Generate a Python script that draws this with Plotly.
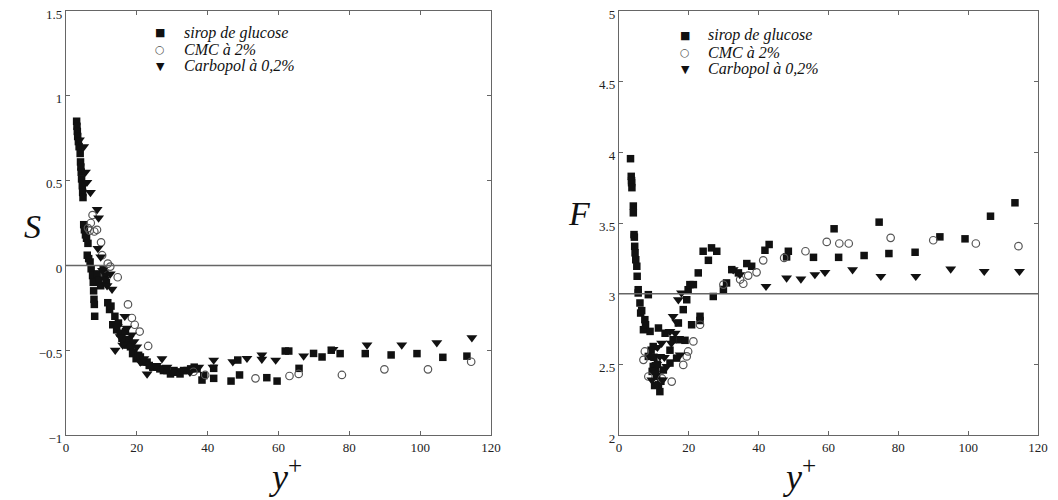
import plotly.graph_objects as go

# ---------------- Data: left panel (S vs y+) ----------------
sirop_S_x = [3.0, 3.1, 3.2, 3.3, 3.5, 3.7, 4.0, 4.1, 4.2, 4.3, 4.4, 4.6, 4.7, 4.8, 5.0, 5.2, 5.5, 5.8, 6.2,
             6.0, 6.4, 6.8, 7.1, 7.5, 7.7, 7.8, 7.9, 8.0, 8.1, 8.8, 9.3, 9.8, 10.5, 11.0, 11.4, 11.8, 12.3,
             12.7, 13.2, 13.8, 14.3, 14.8, 15.3, 15.8, 16.3, 16.8, 17.3, 17.8, 18.2, 18.8, 19.1, 19.8, 20.5,
             21.0, 21.8, 22.9, 23.5, 24.5, 25.7, 26.5, 27.5, 28.5, 29.5, 30.5, 31.3, 32.2, 33.2, 34.2, 35.2,
             36.2, 37.0, 38.4, 38.9, 41.7, 41.7, 46.6, 48.5, 49.0, 56.7, 59.6, 61.9, 62.9, 65.8, 69.9, 72.3,
             74.9, 77.4, 84.5, 91.8, 99.1, 106.4, 113.2]
sirop_S_y = [0.85, 0.82, 0.79, 0.76, 0.73, 0.70, 0.66, 0.61, 0.58, 0.55, 0.51, 0.47, 0.43, 0.40, 0.24, 0.21,
             0.18, 0.16, 0.13, 0.06, 0.04, 0.02, -0.02, -0.06, -0.10, -0.15, -0.20, -0.23, -0.30, -0.05, -0.09,
             -0.12, -0.02, -0.05, -0.10, -0.22, -0.26, -0.24, -0.35, -0.30, -0.38, -0.34, -0.40, -0.43, -0.44,
             -0.39, -0.47, -0.45, -0.48, -0.52, -0.51, -0.55, -0.53, -0.54, -0.57, -0.57, -0.59, -0.60, -0.60,
             -0.61, -0.62, -0.62, -0.64, -0.62, -0.63, -0.64, -0.62, -0.62, -0.61, -0.60, -0.61, -0.676, -0.65,
             -0.666, -0.607, -0.682, -0.558, -0.646, -0.662, -0.682, -0.505, -0.505, -0.607, -0.519, -0.54,
             -0.50, -0.52, -0.52, -0.528, -0.52, -0.542, -0.535]

cmc_S_x = [6.2, 6.7, 7.0, 7.5, 8.0, 8.75, 9.9, 10.2, 11.1, 11.8, 12.5, 14.6, 17.5, 18.6, 19.4, 20.8, 23.2,
           36.0, 39.3, 53.5, 63.1, 65.7, 77.9, 89.9, 102.2, 114.4]
cmc_S_y = [0.22, 0.205, 0.25, 0.297, 0.20, 0.21, 0.136, 0.06, -0.06, 0.01, -0.007, -0.07, -0.23, -0.31,
           -0.35, -0.39, -0.475, -0.627, -0.646, -0.666, -0.652, -0.64, -0.646, -0.613, -0.613, -0.568]

carbo_S_x = [3.8, 5.0, 5.5, 5.9, 6.9, 8.8, 9.2, 9.0, 9.8, 10.3, 11.0, 11.6, 12.5, 13.0, 13.9, 14.5, 15.3,
             16.0, 16.6, 17.2, 17.8, 18.5, 19.2, 20.0, 21.0, 22.0, 22.9, 24.0, 25.5, 27.1, 28.5, 30.0, 32.5,
             35.0, 37.5, 41.7, 41.5, 47.1, 51.1, 55.3, 55.3, 59.2, 67.1, 75.4, 85.0, 94.8, 104.7, 114.6]
carbo_S_y = [0.74, 0.70, 0.55, 0.49, 0.43, 0.33, 0.28, 0.10, 0.05, -0.03, -0.08, -0.12, -0.05, -0.14, -0.50,
             -0.36, -0.42, -0.47, -0.30, -0.37, -0.43, -0.41, -0.45, -0.48, -0.57, -0.55, -0.64, -0.60, -0.59,
             -0.55, -0.60, -0.63, -0.62, -0.63, -0.60, -0.558, -0.60, -0.568, -0.548, -0.528, -0.553, -0.558,
             -0.534, -0.495, -0.469, -0.469, -0.456, -0.426]

# ---------------- Data: right panel (F vs y+) ----------------
sirop_F_x = [3.3, 3.5, 3.6, 3.6, 3.7, 4.1, 4.1, 4.3, 4.4, 4.5, 4.6, 4.8, 5.1, 5.2, 5.5, 5.5, 8.4, 6.0, 6.2,
             6.5, 7.4, 7.0, 7.6, 8.9, 11.3, 13.2, 9.8, 8.4, 9.8, 10.8, 11.3, 11.7, 12.7, 14.6, 15.5, 17.0,
             18.4, 19.4, 19.8, 20.3, 21.3, 22.7, 23.2, 23.2, 20.8, 27.0, 17.5, 18.9, 16.5, 14.6, 10.0, 10.5,
             11.0, 12.0, 9.2, 9.5, 10.2, 24.1, 26.5, 28.0, 25.6, 30.8, 29.9, 32.3, 34.2, 36.6, 38.0, 41.8,
             43.0, 48.5, 48.0, 55.7, 61.6, 62.9, 70.2, 74.5, 77.3, 84.8, 91.9, 99.1, 106.4, 113.4]
sirop_F_y = [3.955, 3.83, 3.80, 3.785, 3.75, 3.62, 3.572, 3.418, 3.40, 3.335, 3.289, 3.24, 3.194, 3.123,
             3.028, 3.005, 2.993, 2.934, 2.863, 2.88, 2.816, 2.745, 2.78, 2.733, 2.757, 2.72, 2.626, 2.556,
             2.485, 2.414, 2.355, 2.307, 2.46, 2.60, 2.674, 2.792, 2.887, 2.957, 3.028, 3.064, 3.064, 3.147,
             2.84, 2.81, 2.78, 2.98, 2.674, 2.67, 2.544, 2.509, 2.55, 2.45, 2.50, 2.38, 2.60, 2.45, 2.35,
             3.30, 3.324, 3.30, 3.236, 3.076, 3.03, 3.17, 3.147, 3.213, 3.194, 3.307, 3.348, 3.30, 3.26,
             3.257, 3.459, 3.257, 3.27, 3.506, 3.284, 3.293, 3.402, 3.388, 3.548, 3.643]

cmc_F_x = [7.4, 7.0, 8.4, 12.3, 15.1, 18.4, 19.4, 19.8, 21.3, 23.2, 29.9, 34.7, 35.6, 37.0, 39.4, 41.3,
           47.3, 53.4, 59.5, 63.1, 65.8, 77.8, 90.0, 102.2, 114.4]
cmc_F_y = [2.591, 2.532, 2.414, 2.40, 2.378, 2.496, 2.556, 2.591, 2.662, 2.78, 3.064, 3.10, 3.07, 3.128,
           3.151, 3.236, 3.253, 3.30, 3.366, 3.355, 3.355, 3.395, 3.378, 3.355, 3.336]

carbo_F_x = [17.0, 17.9, 15.5, 14.6, 16.1, 12.2, 11.7, 10.3, 9.4, 12.5, 13.7, 17.5, 11.0, 10.8, 13.0, 15.0,
             16.5, 32.7, 34.6, 42.1, 48.0, 52.1, 56.1, 59.0, 66.9, 75.0, 85.0, 95.0, 104.6, 114.7]
carbo_F_y = [2.957, 3.005, 2.84, 2.733, 2.72, 2.65, 2.556, 2.437, 2.39, 2.39, 2.485, 2.567, 2.62, 2.50,
             2.55, 2.65, 2.80, 3.17, 3.135, 3.052, 3.111, 3.104, 3.135, 3.151, 3.17, 3.123, 3.123, 3.175,
             3.158, 3.158]

series_names = ["sirop de glucose", "CMC à 2%", "Carbopol à 0,2%"]
series_glyphs = ["■", "○", "▼"]
x_ticks = [0, 20, 40, 60, 80, 100, 120]
s_ticks = [-1, -0.5, 0, 0.5, 1, 1.5]
f_ticks = [2, 2.5, 3, 3.5, 4, 4.5, 5]

# the page body has an 8px margin: the figure is sized and placed to fill the 1058x500 window
OFF = 8
W, H = 1058 - OFF, 500 - OFF
SERIF = "Liberation Serif, Times New Roman, serif"
INK = "#111111"
AX = "#666666"

sq = dict(symbol="square", size=7.5, color=INK)
ci = dict(symbol="circle-open", size=7.5, color="#555555", line=dict(width=1.2, color="#555555"))
tr = dict(symbol="triangle-down", size=9.5, color=INK)

fig = go.Figure()
fig.add_trace(go.Scatter(x=sirop_S_x, y=sirop_S_y, mode="markers", marker=sq, name=series_names[0],
                         xaxis="x", yaxis="y"))
fig.add_trace(go.Scatter(x=cmc_S_x, y=cmc_S_y, mode="markers", marker=ci, name=series_names[1],
                         xaxis="x", yaxis="y"))
fig.add_trace(go.Scatter(x=carbo_S_x, y=carbo_S_y, mode="markers", marker=tr, name=series_names[2],
                         xaxis="x", yaxis="y"))
fig.add_trace(go.Scatter(x=sirop_F_x, y=sirop_F_y, mode="markers", marker=sq, name=series_names[0],
                         xaxis="x2", yaxis="y2"))
fig.add_trace(go.Scatter(x=cmc_F_x, y=cmc_F_y, mode="markers", marker=ci, name=series_names[1],
                         xaxis="x2", yaxis="y2"))
fig.add_trace(go.Scatter(x=carbo_F_x, y=carbo_F_y, mode="markers", marker=tr, name=series_names[2],
                         xaxis="x2", yaxis="y2"))

tickfont = dict(family=SERIF, size=13, color="#222222")
common = dict(showline=True, linecolor=AX, linewidth=1.2, mirror="ticks", ticks="inside", ticklen=4,
              tickcolor=AX, showgrid=False, zeroline=False, tickfont=tickfont, automargin=False,
              ticklabeloverflow="allow")

def px(x):
    return (x - OFF) / W

def py(y):
    return 1 - (y - OFF) / H

Y0, Y1 = py(435), py(11)

annotations = [
    dict(text="<i>S</i>", x=px(22), y=py(226), font=dict(family=SERIF, size=34, color=INK)),
    dict(text="<i>F</i>", x=px(579), y=py(213), font=dict(family=SERIF, size=34, color=INK)),
    dict(text="<i>y</i><sup>+</sup>", x=px(267), y=py(474), font=dict(family=SERIF, size=36, color=INK)),
    dict(text="<i>y</i><sup>+</sup>", x=px(818), y=py(474), font=dict(family=SERIF, size=36, color=INK)),
]
# legend keys (one block per panel)
legend_blocks = [(160, 182, [33, 49.5, 66]), (685, 706, [35, 52, 69])]
glyph_colors = [INK, "#555555", INK]
for gx, tx, rows in legend_blocks:
    for i, ry in enumerate(rows):
        annotations.append(dict(text=series_glyphs[i], x=px(gx), y=py(ry), xanchor="center",
                                font=dict(family="DejaVu Sans", size=11, color=glyph_colors[i])))
        annotations.append(dict(text="<i>" + series_names[i] + "</i>", x=px(tx), y=py(ry), xanchor="left",
                                font=dict(family=SERIF, size=16, color=INK)))
for a in annotations:
    a.update(xref="paper", yref="paper", showarrow=False)
    a.setdefault("yanchor", "middle")

fig.update_layout(
    width=W, height=H,
    margin=dict(l=0, r=0, t=0, b=0),
    paper_bgcolor="white", plot_bgcolor="white",
    showlegend=False,
    xaxis=dict(domain=[px(66), px(491)], range=[0, 120], tickvals=x_ticks, anchor="y", **common),
    yaxis=dict(domain=[Y0, Y1], range=[-1, 1.5], tickvals=s_ticks, anchor="x", ticklabelshift=3, **common),
    xaxis2=dict(domain=[px(619), px(1038)], range=[0, 120], tickvals=x_ticks, anchor="y2", **common),
    yaxis2=dict(domain=[Y0, Y1], range=[2, 5], tickvals=f_ticks, anchor="x2", ticklabelshift=3, **common),
    shapes=[
        dict(type="line", xref="x domain", yref="y", x0=0, x1=1, y0=0, y1=0, line=dict(color=AX, width=1.5)),
        dict(type="line", xref="x2 domain", yref="y2", x0=0, x1=1, y0=3, y1=3, line=dict(color=AX, width=1.5)),
    ],
    annotations=annotations,
)

fig.write_html("out.html")
